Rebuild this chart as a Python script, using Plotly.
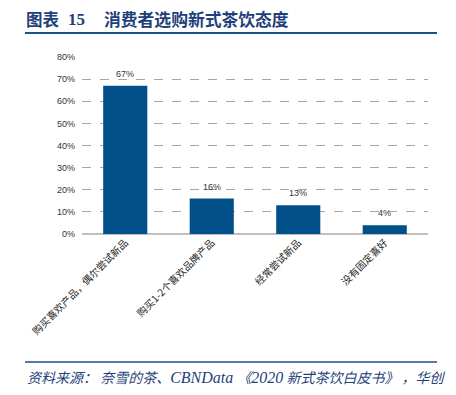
import plotly.graph_objects as go

categories = ["购买喜欢产品，偶尔尝试新品", "购买1-2个喜欢品牌产品", "经常尝试新品", "没有固定喜好"]
values = [67, 16, 13, 4]
value_labels = ["67%", "16%", "13%", "4%"]
tick_vals = [0, 10, 20, 30, 40, 50, 60, 70, 80]
tick_text = ["0%", "10%", "20%", "30%", "40%", "50%", "60%", "70%", "80%"]

# page body has an 8px margin, so the figure is drawn offset by 8px
O = 8
W, H = 456 - O, 395 - O
L = 82 - O
T = 57 - O
R = W - (428 - O)
B = H - (234 - O)
PW = W - L - R
PH = H - T - B

def px(x):
    return (x - O - L) / PW

def py(y):
    return (H - B - (y - O)) / PH

fig = go.Figure()
fig.add_trace(go.Bar(
    x=categories, y=values, width=0.51,
    marker=dict(color="#02508A", line=dict(width=0)),
))

title_font = dict(size=16.5, color="#1F3F7A", family="Noto Sans CJK SC")
annotations = [
    dict(text="<b>图表</b>", xref="paper", yref="paper",
         x=px(24), y=py(19.5), xanchor="left", yanchor="middle", showarrow=False,
         font=title_font),
    dict(text="<b>15</b>", xref="paper", yref="paper",
         x=px(66), y=py(19), xanchor="left", yanchor="middle", showarrow=False,
         font=dict(size=17, color="#1F3F7A", family="Liberation Serif")),
    dict(text="<b>消费者选购新式茶饮态度</b>", xref="paper", yref="paper",
         x=px(102), y=py(19.5), xanchor="left", yanchor="middle", showarrow=False,
         font=dict(size=16.8, color="#1F3F7A", family="Noto Sans CJK SC")),
    dict(text="<i>资料来源： 奈雪的茶、<span style='font-family:Liberation Serif;font-size:16px'>CBNData </span>"
              "《<span style='font-family:Liberation Serif;font-size:16px'>2020</span> 新式茶饮白皮书》 ，华创</i>",
         xref="paper", yref="paper",
         x=px(25), y=py(377), xanchor="left", yanchor="middle", showarrow=False,
         font=dict(size=14, color="#1F3F7A", family="Noto Sans CJK SC")),
]
for c, v, lab in zip(categories, values, value_labels):
    annotations.append(dict(
        text=lab, x=c, y=v, xref="x", yref="y", yanchor="bottom", yshift=5,
        showarrow=False, font=dict(size=9, color="#333333", family="Liberation Sans, Arial"),
    ))

fig.update_layout(
    width=W, height=H,
    margin=dict(l=L, r=R, t=T, b=B, autoexpand=False),
    paper_bgcolor="white", plot_bgcolor="white",
    showlegend=False,
    bargap=0.49,
    font=dict(family="Liberation Sans, Arial", size=9, color="#333333"),
    xaxis=dict(
        tickangle=-45, showgrid=False, ticks="", showline=False, automargin=False,
        tickfont=dict(size=10, color="#222222", family="Noto Sans CJK SC"),
    ),
    yaxis=dict(
        range=[0, 80], tickvals=tick_vals, ticktext=tick_text, automargin=False,
        showgrid=True, gridcolor="#A6A6A6", griddash="dash", gridwidth=1,
        zeroline=True, zerolinecolor="#BFBFBF", zerolinewidth=1.5,
        ticks="", tickfont=dict(size=9, color="#333333"),
        ticklabelstandoff=6,
    ),
    shapes=[
        dict(type="line", xref="paper", yref="paper", x0=px(25), x1=px(437), y0=py(33), y1=py(33),
             line=dict(color="#1F4E8C", width=2)),
        dict(type="line", xref="paper", yref="paper", x0=px(25), x1=px(437), y0=py(362), y1=py(362),
             line=dict(color="#1F4E8C", width=1.5)),
    ],
    annotations=annotations,
)

fig.write_html("out.html")
